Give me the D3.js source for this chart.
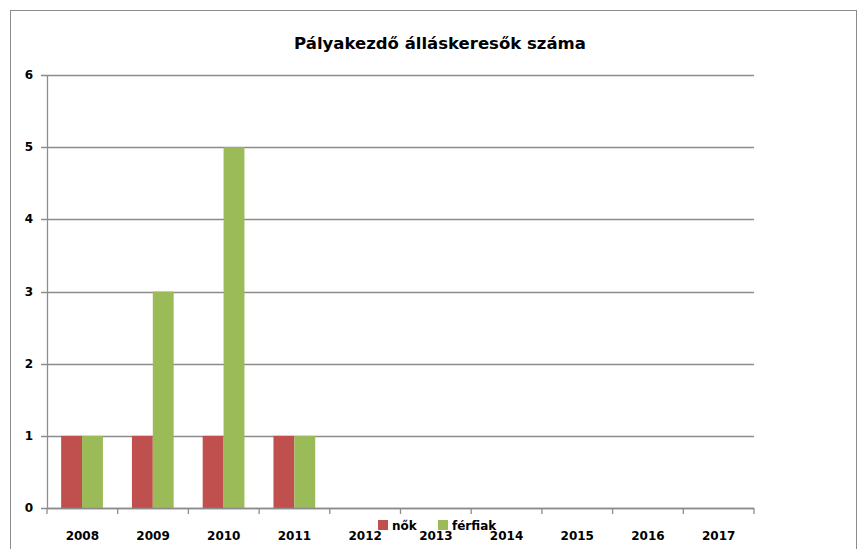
<!DOCTYPE html>
<html><head><meta charset="utf-8">
<script src="https://cdn.jsdelivr.net/npm/d3@7"></script>
<style>body{margin:0;background:#fff}svg{display:block}text{font-family:"DejaVu Sans",sans-serif;font-weight:bold}</style>
</head><body>
<svg id="c" width="860" height="549"></svg>
<script>
const categories = ["2008","2009","2010","2011","2012","2013","2014","2015","2016","2017"];
const seriesNames = ["nők","férfiak"];
const nok = [1,1,1,1,0,0,0,0,0,0];
const ferfiak = [1,3,5,1,0,0,0,0,0,0];
const yTicks = [0,1,2,3,4,5,6];
const colors = ["#C0504D","#9BBB59"];

const svg = d3.select("#c");
svg.append("rect").attr("x",10.5).attr("y",10.5).attr("width",846).attr("height",560)
  .attr("fill","#fff").attr("stroke","#8c8c8c");

const L=47, R=754, T=75, B=508;
const x = d3.scaleBand().domain(categories).range([L,R]).paddingInner(0.41).paddingOuter(0.2);
const x1 = d3.scaleBand().domain(seriesNames).range([0,x.bandwidth()]);
const y = d3.scaleLinear().domain([0,6]).range([B,T]);

// gridlines
svg.append("g").selectAll("line").data(yTicks).join("line")
  .attr("x1",41).attr("x2",R).attr("y1",d=>Math.round(y(d))+0.5).attr("y2",d=>Math.round(y(d))+0.5)
  .attr("stroke","#8c8c8c").attr("stroke-width",1.3);

// bars
const data = categories.map((c,i)=>({c, vals:[nok[i],ferfiak[i]]}));
const g = svg.append("g").selectAll("g").data(data).join("g").attr("transform",d=>`translate(${x(d.c)},0)`);
g.selectAll("rect").data(d=>d.vals.map((v,j)=>({v,s:seriesNames[j],j}))).join("rect")
  .attr("x",d=>x1(d.s)).attr("width",x1.bandwidth())
  .attr("y",d=>y(d.v)).attr("height",d=>B-y(d.v)).attr("fill",d=>colors[d.j]);

// y axis
svg.append("line").attr("x1",L+0.5).attr("x2",L+0.5).attr("y1",T).attr("y2",B).attr("stroke","#8c8c8c").attr("stroke-width",1.3);
svg.append("g").selectAll("text").data(yTicks).join("text")
  .attr("x",33).attr("y",d=>y(d)+4).attr("text-anchor","end").attr("font-size",12).text(d=>d);

// x axis
svg.append("line").attr("x1",L).attr("x2",R).attr("y1",B+0.5).attr("y2",B+0.5).attr("stroke","#8c8c8c").attr("stroke-width",1.3);
const step = (R-L)/categories.length;
svg.append("g").selectAll("line").data(d3.range(categories.length+1)).join("line")
  .attr("x1",d=>L+d*step).attr("x2",d=>L+d*step).attr("y1",B).attr("y2",B+6).attr("stroke","#8c8c8c").attr("stroke-width",1.3);
svg.append("g").selectAll("text").data(categories).join("text")
  .attr("x",d=>L+(categories.indexOf(d)+0.5)*step).attr("y",540).attr("text-anchor","middle").attr("font-size",12).text(d=>d);

// title
svg.append("text").attr("x",440).attr("y",49).attr("text-anchor","middle").attr("font-size",16.5).text("Pályakezdő álláskeresők száma");

// legend
const leg = [{n:seriesNames[0],x:378},{n:seriesNames[1],x:438}];
leg.forEach((l,i)=>{
  svg.append("rect").attr("x",l.x).attr("y",520).attr("width",10).attr("height",10).attr("fill",colors[i]);
  svg.append("text").attr("x",l.x+14).attr("y",530).attr("font-size",12).text(l.n);
});
</script>
</body></html>
